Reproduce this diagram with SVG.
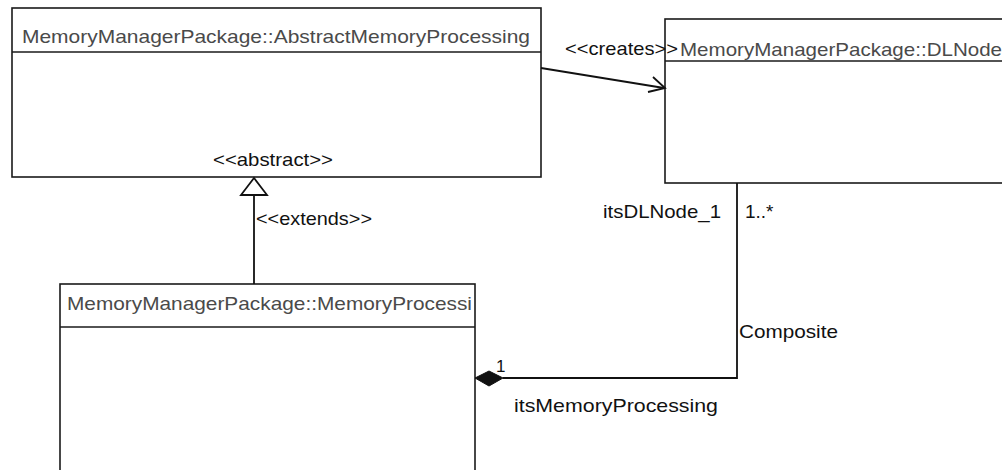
<svg xmlns="http://www.w3.org/2000/svg" width="1002" height="470" viewBox="0 0 1002 470">
  <style>
    .box { fill: #ffffff; stroke: #1a1a1a; stroke-width: 1.6; }
    .div { stroke: #1a1a1a; stroke-width: 1.6; }
    .title { font-family: "Liberation Sans", Arial, sans-serif; font-size: 19px; fill: #4a4a4a; }
    .lbl { font-family: "Liberation Sans", Arial, sans-serif; font-size: 19px; fill: #111111; }
    .edge { fill: none; stroke: #111111; stroke-width: 1.8; }
  </style>
  <rect width="1002" height="470" fill="#ffffff"/>

  <!-- abstract base class -->
  <g id="abstract-memory-processing">
    <rect class="box" x="12" y="8" width="529" height="169"/>
    <line class="div" x1="12" y1="52" x2="541" y2="52"/>
    <text class="title" x="22" y="43" textLength="508" lengthAdjust="spacingAndGlyphs">MemoryManagerPackage::AbstractMemoryProcessing</text>
    <text class="lbl" x="213" y="166" textLength="120" lengthAdjust="spacingAndGlyphs">&lt;&lt;abstract&gt;&gt;</text>
  </g>

  <!-- DLNode class, runs off the right side -->
  <g id="dl-node">
    <rect class="box" x="665" y="19" width="350" height="164"/>
    <line class="div" x1="665" y1="61" x2="1015" y2="61"/>
    <text class="title" x="680" y="56" textLength="322" lengthAdjust="spacingAndGlyphs">MemoryManagerPackage::DLNode</text>
  </g>

  <!-- concrete subclass, runs off the bottom -->
  <g id="memory-processing">
    <rect class="box" x="60" y="284" width="415" height="200"/>
    <line class="div" x1="60" y1="327" x2="475" y2="327"/>
    <text class="title" x="67" y="310" textLength="405" lengthAdjust="spacingAndGlyphs">MemoryManagerPackage::MemoryProcessi</text>
  </g>

  <g id="connectors">
    <!-- creates dependency -->
    <line class="edge" x1="541" y1="68" x2="664" y2="88"/>
    <polyline class="edge" points="653,77 665,88 648,92"/>
    <text class="lbl" x="565" y="55" textLength="113" lengthAdjust="spacingAndGlyphs">&lt;&lt;creates&gt;&gt;</text>

    <!-- generalization -->
    <line class="edge" x1="254" y1="195" x2="254" y2="284"/>
    <polygon points="254,178 241,195 267,195" fill="#ffffff" stroke="#111111" stroke-width="1.8"/>
    <text class="lbl" x="256" y="225" textLength="116" lengthAdjust="spacingAndGlyphs">&lt;&lt;extends&gt;&gt;</text>

    <!-- composition -->
    <polyline class="edge" points="737,183 737,378 503,378"/>
    <polygon points="475,378 489,371 503,378 489,386" fill="#111111" stroke="#111111" stroke-width="1"/>
    <text class="lbl" x="603" y="218" textLength="118" lengthAdjust="spacingAndGlyphs">itsDLNode_1</text>
    <text class="lbl" x="745" y="218">1..*</text>
    <text class="lbl" x="739" y="338" textLength="99" lengthAdjust="spacingAndGlyphs">Composite</text>
    <text class="lbl" x="496" y="372" style="font-size:17px">1</text>
    <text class="lbl" x="514" y="412" textLength="204" lengthAdjust="spacingAndGlyphs">itsMemoryProcessing</text>
  </g>
</svg>
